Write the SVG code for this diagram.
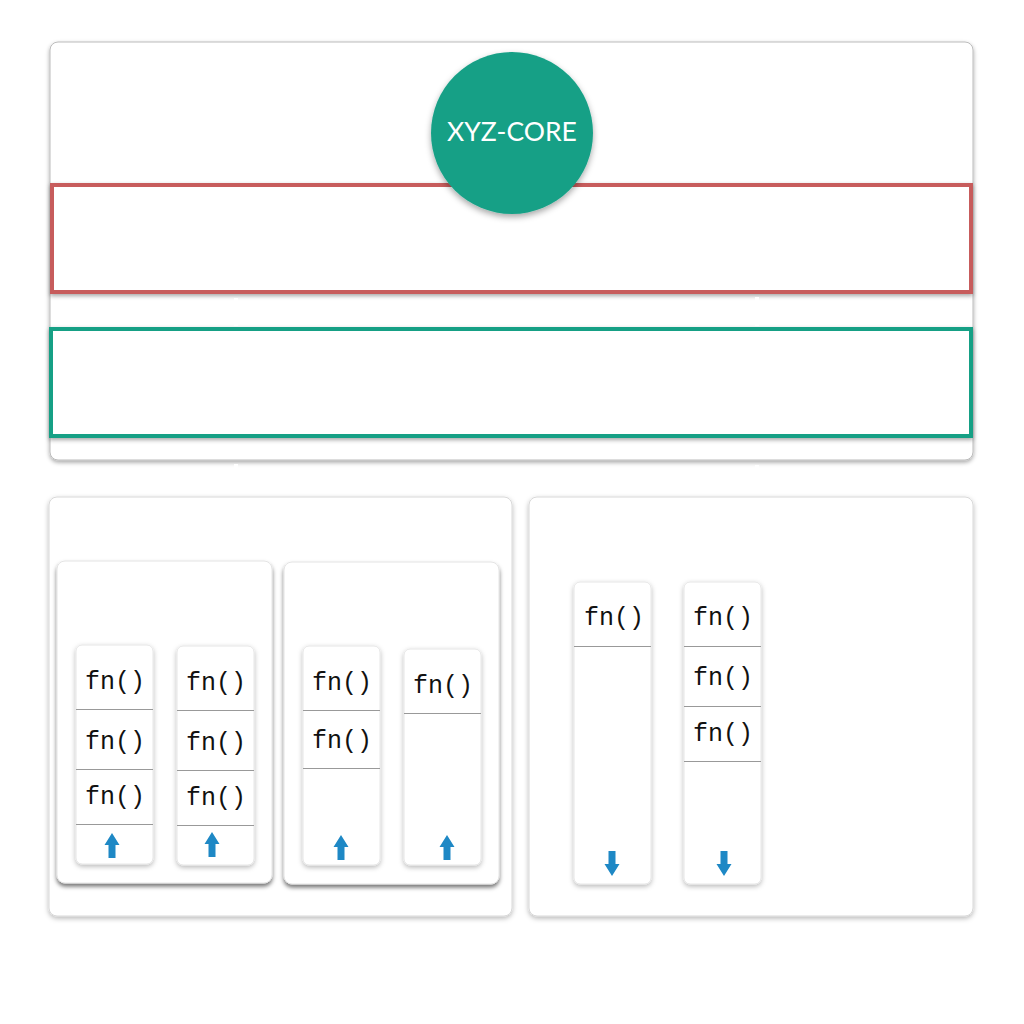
<svg xmlns="http://www.w3.org/2000/svg" width="1024" height="1024" viewBox="0 0 1024 1024">
<defs>
<filter id="sh" x="-10%" y="-10%" width="120%" height="130%"><feDropShadow dx="0" dy="2" stdDeviation="2" flood-color="#000" flood-opacity="0.35"/></filter>
<filter id="shs" x="-10%" y="-10%" width="120%" height="130%"><feDropShadow dx="0" dy="2" stdDeviation="2.5" flood-color="#000" flood-opacity="0.28"/></filter>
<filter id="shd" x="-10%" y="-10%" width="120%" height="130%"><feDropShadow dx="0" dy="3" stdDeviation="2" flood-color="#000" flood-opacity="0.55"/></filter>
<filter id="shc" x="-20%" y="-20%" width="140%" height="150%"><feDropShadow dx="0" dy="3" stdDeviation="3" flood-color="#000" flood-opacity="0.35"/></filter>
<marker id="wa" viewBox="0 0 10 10" refX="10" refY="5" markerWidth="4" markerHeight="4" orient="auto"><path d="M0,0 L10,5 L0,10 z" fill="#fff"/></marker>
</defs>
<style>
.panel{fill:#fff;stroke:#d8d8d8;stroke-width:1}
.stack{fill:#fff;stroke:#e6e6e6;stroke-width:1}
.div{stroke:#999;stroke-width:1}
.fn{font-family:"Liberation Mono","Courier New",monospace;font-size:25px;fill:#111;text-anchor:middle}
.arr{fill:#1e88c5}
.conn{stroke:#fff;stroke-width:4;fill:none}
</style>
<rect width="1024" height="1024" fill="#fff"/>

<g id="top-panel">
<rect x="50" y="42" width="923" height="418" rx="8" fill="#fff" stroke="#bbb" stroke-width="1" filter="url(#sh)"/>
</g>
<g id="red-layer">
<rect x="52" y="185" width="919" height="107" fill="#fff" stroke="#c75b5b" stroke-width="4" filter="url(#sh)"/>
</g>
<g id="green-layer">
<rect x="51" y="329" width="920" height="107" fill="#fff" stroke="#16a085" stroke-width="4" filter="url(#sh)"/>
</g>
<g id="core">
<circle cx="512" cy="133" r="81" fill="#17a086" filter="url(#shc)"/>
<text x="512" y="141" font-family="Lato,'Open Sans',sans-serif" font-size="26.5" fill="#fff" text-anchor="middle">XYZ-CORE</text>
</g>

<g id="connectors">
<line class="conn" x1="236" y1="326" x2="236" y2="298" marker-end="url(#wa)"/>
<line class="conn" x1="757" y1="297" x2="757" y2="326"/>
<line class="conn" x1="236" y1="496" x2="236" y2="464" marker-end="url(#wa)"/>
<line class="conn" x1="757" y1="465" x2="757" y2="496"/>
</g>

<g id="left-panel">
<rect class="panel" x="49" y="497" width="463" height="419" rx="8" filter="url(#shs)"/>
</g>
<g id="right-panel">
<rect class="panel" x="529" y="497" width="444" height="419" rx="8" filter="url(#shs)"/>
</g>

<g id="group-a">
<rect x="57" y="561" width="215" height="322" rx="8" fill="#fff" stroke="#e4e4e4" filter="url(#shd)"/>
</g>
<g id="group-b">
<rect x="284" y="562" width="215" height="322" rx="8" fill="#fff" stroke="#e4e4e4" filter="url(#shd)"/>
</g>

<g id="stack-1">
<rect class="stack" x="76" y="645" width="77" height="219" rx="6" filter="url(#shs)"/>
<line class="div" x1="76" y1="709.5" x2="153" y2="709.5"/>
<line class="div" x1="76" y1="769.5" x2="153" y2="769.5"/>
<line class="div" x1="76" y1="824.5" x2="153" y2="824.5"/>
<text class="fn" x="115" y="689">fn()</text>
<text class="fn" x="115" y="749">fn()</text>
<text class="fn" x="115" y="804">fn()</text>
<path class="arr" d="M112,833 L119.5,845 L115.5,845 L115.5,858 L108.5,858 L108.5,845 L104.5,845 z"/>
</g>
<g id="stack-2">
<rect class="stack" x="177" y="646" width="77" height="219" rx="6" filter="url(#shs)"/>
<line class="div" x1="177" y1="710.5" x2="254" y2="710.5"/>
<line class="div" x1="177" y1="770.5" x2="254" y2="770.5"/>
<line class="div" x1="177" y1="825.5" x2="254" y2="825.5"/>
<text class="fn" x="216" y="690">fn()</text>
<text class="fn" x="216" y="750">fn()</text>
<text class="fn" x="216" y="805">fn()</text>
<path class="arr" d="M212,832 L219.5,844 L215.5,844 L215.5,857 L208.5,857 L208.5,844 L204.5,844 z"/>
</g>
<g id="stack-3">
<rect class="stack" x="303" y="646" width="77" height="219" rx="6" filter="url(#shs)"/>
<line class="div" x1="303" y1="710.5" x2="380" y2="710.5"/>
<line class="div" x1="303" y1="768.5" x2="380" y2="768.5"/>
<text class="fn" x="342" y="690">fn()</text>
<text class="fn" x="342" y="748">fn()</text>
<path class="arr" d="M341,835 L348.5,847 L344.5,847 L344.5,860 L337.5,860 L337.5,847 L333.5,847 z"/>
</g>
<g id="stack-4">
<rect class="stack" x="404" y="649" width="77" height="216" rx="6" filter="url(#shs)"/>
<line class="div" x1="404" y1="713.5" x2="481" y2="713.5"/>
<text class="fn" x="443" y="693">fn()</text>
<path class="arr" d="M447,835 L454.5,847 L450.5,847 L450.5,860 L443.5,860 L443.5,847 L439.5,847 z"/>
</g>
<g id="stack-5">
<rect class="stack" x="574" y="582" width="77" height="302" rx="6" filter="url(#shs)"/>
<line class="div" x1="574" y1="646.5" x2="651" y2="646.5"/>
<text class="fn" x="614" y="625">fn()</text>
<path class="arr" d="M612,876 L619.5,864 L615.5,864 L615.5,851 L608.5,851 L608.5,864 L604.5,864 z"/>
</g>
<g id="stack-6">
<rect class="stack" x="684" y="582" width="77" height="302" rx="6" filter="url(#shs)"/>
<line class="div" x1="684" y1="646.5" x2="761" y2="646.5"/>
<line class="div" x1="684" y1="706.5" x2="761" y2="706.5"/>
<line class="div" x1="684" y1="761.5" x2="761" y2="761.5"/>
<text class="fn" x="723" y="625">fn()</text>
<text class="fn" x="723" y="685">fn()</text>
<text class="fn" x="723" y="741">fn()</text>
<path class="arr" d="M724,876 L731.5,864 L727.5,864 L727.5,851 L720.5,851 L720.5,864 L716.5,864 z"/>
</g>
</svg>
